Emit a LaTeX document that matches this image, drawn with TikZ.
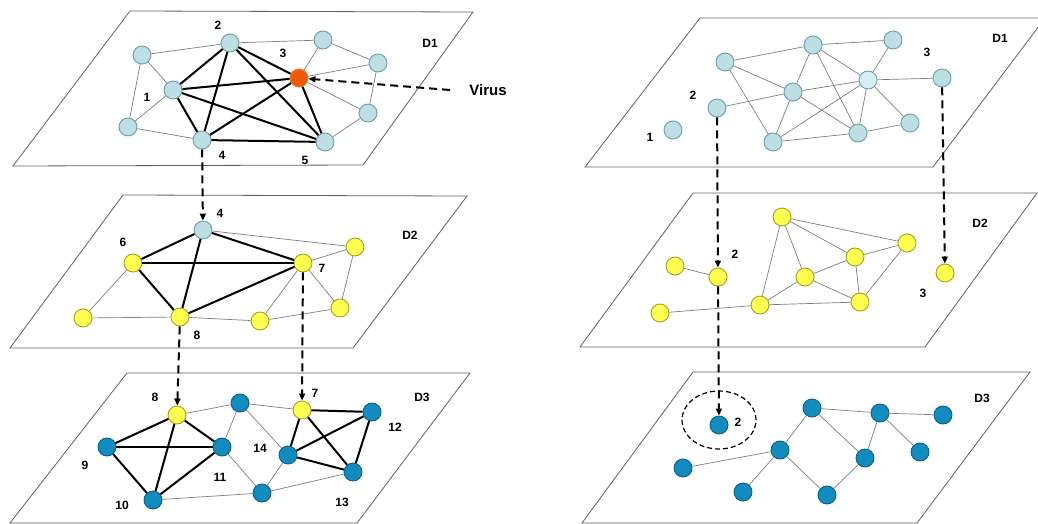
\documentclass[tikz,border=0pt]{standalone}
\usepackage{fontspec}
\setmainfont{Liberation Sans}
\usetikzlibrary{arrows.meta,shapes.geometric}

\definecolor{paleblue}{RGB}{188,222,228}
\definecolor{paleedge}{RGB}{105,160,170}
\definecolor{hubblue}{RGB}{212,238,248}
\definecolor{virusred}{RGB}{240,88,10}
\definecolor{virusedge}{RGB}{220,130,50}
\definecolor{nodeyellow}{RGB}{255,255,80}
\definecolor{yellowedge}{RGB}{165,160,40}
\definecolor{deepblue}{RGB}{18,140,190}
\definecolor{deepedge}{RGB}{10,95,135}
\definecolor{planegray}{RGB}{95,95,95}
\definecolor{linkgray}{RGB}{125,125,125}

\begin{document}
\begin{tikzpicture}[x=1pt,y=-1pt,
	vtx/.style={circle,minimum size=18pt,inner sep=0pt,line width=0.9pt,draw},
	lb/.style={vtx,fill=paleblue,draw=paleedge},
	hub/.style={vtx,fill=hubblue,draw=paleedge},
	inf/.style={vtx,fill=virusred,draw=virusedge},
	yw/.style={vtx,fill=nodeyellow,draw=yellowedge},
	db/.style={vtx,fill=deepblue,draw=deepedge},
	plane/.style={draw=planegray,line width=0.8pt},
	weak/.style={draw=linkgray,line width=0.7pt},
	strong/.style={draw=black,line width=2pt},
	jump/.style={draw=black,line width=2pt,dash pattern=on 8pt off 5pt,-{Triangle[length=7pt,width=6pt]}},
	num/.style={font=\bfseries\fontsize{12}{14}\selectfont},
	]
	\useasboundingbox (0,0) rectangle (1038,524);
	% planes
	\draw[plane] (130,11) -- (473,12) -- (363,165) -- (13,166) -- cycle;
	\draw[plane] (123,195) -- (467,196) -- (353,348) -- (10,348) -- cycle;
	\draw[plane] (127,373) -- (470,373) -- (357,523) -- (10,523) -- cycle;
	\draw[plane] (700,18) -- (1045,18) -- (933,167) -- (585,167) -- cycle;
	\draw[plane] (693,193) -- (1037,193) -- (925,347) -- (580,347) -- cycle;
	\draw[plane] (693,372) -- (1030,372) -- (917,523) -- (582,523) -- cycle;

	% left, D1
	\foreach \n/\x/\y in {a1/173/90, a2/230/43, a4/202/140, a5/325/142, aA/142/55,
		aB/128/127, aC/323/40, aD/378/63, aE/368/113}
		\node[lb] (\n) at (\x,\y) {};
	\node[inf] (a3) at (299,78) {};
	\path[weak]
	(aA) edge (a2) edge (a1) edge (aB)
	(aB) edge (a1) edge (a4)
	(aC) edge (a2) edge (a3) edge (aD)
	(aE) edge (a3) edge (aD) edge (a5)
	(aD) edge (a3)
	;
	\path[strong]
	(a1) edge (a2) edge (a3) edge (a4) edge (a5)
	(a2) edge (a3) edge (a4) edge (a5)
	(a3) edge (a4) edge (a5)
	(a4) edge (a5)
	;
	\node[num] (la1) at (147,97) {1};
	\node[num] (la2) at (218,25) {2};
	\node[num] (la3) at (283,53) {3};
	\node[num] (la4) at (222,155) {4};
	\node[num] (la5) at (305,160) {5};
	\node[num] (laD) at (430,43) {D1};
	\node[font=\bfseries\fontsize{15}{17}\selectfont] (virus) at (488,90) {Virus};
	\coordinate (vs) at (450,90);

	% left, D2
	\foreach \n/\x/\y in {b6/133/263, b7/303/263, bA/355/247, bB/83/318,
		b8/180/317, bC/260/321, bD/340/308}
		\node[yw] (\n) at (\x,\y) {};
	\node[lb] (b4) at (203,230) {};
	\path[weak]
	(b4) edge (bA)
	(bA) edge (b7) edge (bD)
	(b7) edge (bD) edge (bC)
	(bC) edge (bD) edge (b8)
	(bB) edge (b8) edge (b6)
	;
	\path[strong]
	(b4) edge (b6) edge (b7) edge (b8)
	(b6) edge (b7) edge (b8)
	(b8) edge (b7)
	;
	\node[num] (lb4) at (220,213) {4};
	\node[num] (lb6) at (123,242) {6};
	\node[num] (lb7) at (322,268) {7};
	\node[num] (lb8) at (197,335) {8};
	\node[num] (lbD) at (410,235) {D2};

	% left, D3
	\foreach \n/\x/\y in {cA/240/403, c12/372/412, c9/107/447, c11/222/447,
		c14/288/455, c13/353/472, c10/153/500, cB/262/493}
		\node[db] (\n) at (\x,\y) {};
	\node[yw] (c8) at (177,415) {};
	\node[yw] (c7) at (302,410) {};
	\path[weak]
	(cA) edge (c8) edge (c7) edge (c11) edge (c14)
	(cB) edge (c11) edge (c14) edge (c10) edge (c13)
	;
	\path[strong]
	(c8) edge (c9) edge (c11) edge (c10)
	(c9) edge (c11) edge (c10)
	(c10) edge (c11)
	(c7) edge (c12) edge (c14) edge (c13)
	(c14) edge (c12) edge (c13)
	(c12) edge (c13)
	;
	\node[num] (lc8) at (155,397) {8};
	\node[num] (lc7) at (315,393) {7};
	\node[num] (lc12) at (395,427) {12};
	\node[num] (lc9) at (85,465) {9};
	\node[num] (lc11) at (220,477) {11};
	\node[num] (lc14) at (260,448) {14};
	\node[num] (lc13) at (342,502) {13};
	\node[num] (lc10) at (122,505) {10};
	\node[num] (lcD) at (422,397) {D3};

	% right, D1
	\foreach \n/\x/\y in {d1/673/130, d2/717/108, dA/725/62, dB/813/45, dC/893/40,
		d3/942/78, dM/793/92, dD/910/123, dE/858/133, dF/773/142}
		\node[lb] (\n) at (\x,\y) {};
	\node[hub] (dH) at (868,80) {};
	\path[weak]
	(dA) edge (dB) edge (dM) edge (dF)
	(dB) edge (dC) edge (dM) edge (dE) edge (dH)
	(dH) edge (dC) edge (d3) edge (dM) edge (dF) edge (dE) edge (dD)
	(dM) edge (dE) edge (dF) edge (d2)
	(dE) edge (dF) edge (dD)
	;
	\node[num] (ld1) at (650,137) {1};
	\node[num] (ld2) at (693,95) {2};
	\node[num] (ld3) at (927,52) {3};
	\node[num] (ldD) at (1000,38) {D1};

	% right, D2
	\foreach \n/\x/\y in {eA/675/266, e2/718/277, eB/660/313, eC/782/217, eD/907/243,
		eE/855/257, eF/805/277, eG/760/305, eH/860/302, e3/945/273}
		\node[yw] (\n) at (\x,\y) {};
	\path[weak]
	(eA) edge (e2)
	(eB) edge (eG)
	(eC) edge (eD) edge (eE) edge (eF) edge (eG)
	(eE) edge (eD) edge (eF) edge (eH)
	(eF) edge (eG) edge (eH)
	(eH) edge (eG) edge (eD)
	;
	\node[num] (le2) at (735,254) {2};
	\node[num] (le3) at (923,293) {3};
	\node[num] (leD) at (980,223) {D2};

	% right, D3
	\foreach \n/\x/\y in {f2/719/425, fA/812/408, fB/880/413, fC/943/415, fD/780/450,
		fE/865/458, fF/920/452, fG/683/468, fH/743/492, fI/827/495}
		\node[db] (\n) at (\x,\y) {};
	\path[weak]
	(fA) edge (fB) edge (fD) edge (fE)
	(fB) edge (fC) edge (fE) edge (fF)
	(fD) edge (fG) edge (fH) edge (fI)
	(fE) edge (fI)
	;
	\node[draw,ellipse,line width=1.2pt,dash pattern=on 5pt off 3pt,
		minimum width=74pt,minimum height=58pt] (ring) at (719,420) {};
	\node[num] (lf2) at (738,422) {2};
	\node[num] (lfD) at (982,398) {D3};

	% layer jumps
	\draw[jump] (vs) -- (a3);
	\draw[jump] (a4) -- (b4);
	\draw[jump] (b8) -- (c8);
	\draw[jump] (b7) -- (c7);
	\draw[jump] (d2) -- (e2);
	\draw[jump] (e2) -- (f2);
	\draw[jump] (d3) -- (e3);
\end{tikzpicture}
\end{document}
